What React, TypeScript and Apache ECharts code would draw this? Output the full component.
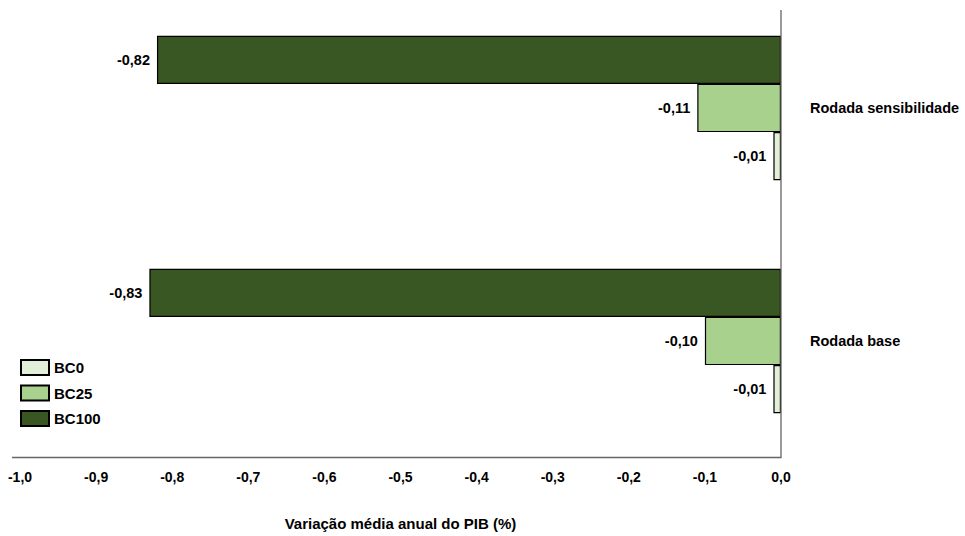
import React, { useEffect, useRef } from "react";
import * as echarts from "echarts";

const categories = ["Rodada base", "Rodada sensibilidade"];
const legendNames = ["BC0", "BC25", "BC100"];
const bc0 = [-0.01, -0.01];
const bc25 = [-0.1, -0.11];
const bc100 = [-0.83, -0.82];
const axisName = "Variação média anual do PIB (%)";

const FONT = "'Liberation Sans', Arial, sans-serif";

export default function App() {
  const ref = useRef<HTMLDivElement>(null);
  useEffect(() => {
    if (!ref.current) return;
    const chart = echarts.init(ref.current, null, { renderer: "svg" });
    // top-to-bottom order inside each category: BC100, BC25, BC0
    const seriesDefs = [
      { name: "BC100", data: bc100, color: "#385723" },
      { name: "BC25", data: bc25, color: "#A9D18E" },
      { name: "BC0", data: bc0, color: "#E2F0D9" },
    ];
    const fmt = (v: number) => v.toFixed(2).replace(".", ",");
    chart.setOption({
      animation: false,
      textStyle: { fontFamily: FONT },
      grid: {
        left: 20,
        right: 184,
        top: -8.5,
        bottom: 78.5,
        containLabel: false,
        outerBoundsMode: "none",
      },
      legend: {
        orient: "vertical",
        left: 20,
        top: 359,
        padding: 0,
        itemWidth: 28,
        itemHeight: 15,
        itemGap: 8.5,
        icon: "rect",
        data: legendNames,
        textStyle: { fontFamily: FONT, fontWeight: "bold", fontSize: 15, color: "#000", lineHeight: 17 },
      },
      xAxis: {
        type: "value",
        min: -1,
        max: 0,
        interval: 0.1,
        axisLine: { show: false },
        axisTick: { show: false },
        splitLine: { show: false },
        axisLabel: {
          margin: 12,
          fontFamily: FONT,
          fontWeight: "bold",
          fontSize: 14,
          color: "#000",
          formatter: (v: number) => v.toFixed(1).replace(".", ","),
        },
        name: axisName,
        nameLocation: "middle",
        nameGap: 58,
        nameTextStyle: { fontFamily: FONT, fontWeight: "bold", fontSize: 15, color: "#000" },
      },
      yAxis: {
        type: "category",
        data: categories,
        position: "right",
        axisLine: { show: false },
        axisTick: { show: false },
        splitLine: { show: false },
        axisLabel: {
          margin: 29,
          fontFamily: FONT,
          fontWeight: "bold",
          fontSize: 14.5,
          color: "#000",
          align: "left",
        },
      },
      graphic: [
        {
          type: "polyline",
          shape: { points: [[12, 457.5], [781, 457.5], [781, 10]] },
          style: { stroke: "#666666", lineWidth: 1.3, fill: null },
          z: 10,
        },
      ],
      series: seriesDefs.map((s) => ({
        name: s.name,
        type: "bar",
        data: s.data,
        barGap: "0%",
        barCategoryGap: "38%",
        itemStyle: { color: s.color, borderColor: "#000", borderWidth: 1.2 },
        label: {
          show: true,
          position: "left",
          distance: 7,
          fontFamily: FONT,
          fontWeight: "bold",
          fontSize: 14.5,
          color: "#000",
          formatter: (p: any) => fmt(p.value),
        },
      })),
    });
    return () => chart.dispose();
  }, []);
  return (
    <div
      ref={ref}
      style={{ position: "fixed", left: 0, top: 0, width: 965, height: 536, background: "#fff" }}
    />
  );
}
